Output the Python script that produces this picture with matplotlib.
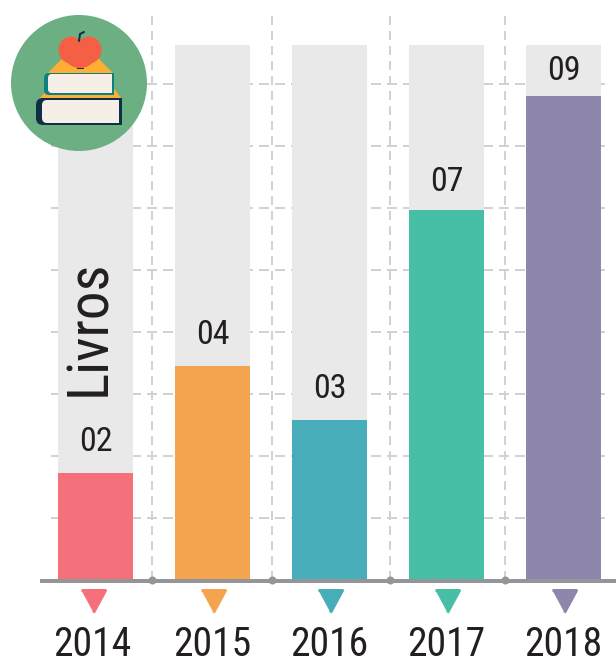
import matplotlib
matplotlib.use('Agg')
import matplotlib.pyplot as plt
from matplotlib.patches import Circle, Ellipse, Polygon, FancyBboxPatch

plt.rcParams['font.family'] = ['Roboto Condensed', 'Archivo Narrow', 'Liberation Sans', 'DejaVu Sans']

# data
years = ['2014', '2015', '2016', '2017', '2018']
labels = ['02', '04', '03', '07', '09']
heights = [2.0, 4.0, 3.0, 6.92, 9.05]
track_top = 10
colors = ['#F4707A', '#F4A44F', '#46ADB9', '#47BEA6', '#8F86AD']
h_grid = [1.16, 2.32, 3.48, 4.64, 5.79, 6.95, 8.11, 9.27]
v_grid = [0.485, 1.51, 2.52, 3.50]
title = 'Livros'

TEXT = '#231F20'
GRID = '#D2D2D2'
AXIS = '#949598'
PX_X = 117.0   # pixels per category
PX_Y = 53.5    # pixels per unit
X0 = 95.5      # pixel of first bar centre
Y0 = 580.0     # pixel of the zero line

fig = plt.figure(figsize=(6.16, 6.59), dpi=100)
ax = fig.add_axes([0, 0, 1, 1])
ax.set_xlim(-X0 / PX_X, (616 - X0) / PX_X)
ax.set_ylim((Y0 - 659) / PX_Y, Y0 / PX_Y)
ax.axis('off')

xs = list(range(len(years)))
px = 0.72  # one pixel in points

# grid, limited to the plot area
x_left, x_right = (51 - X0) / PX_X, (611 - X0) / PX_X
for y in h_grid:
    ax.plot([x_left, x_right], [y, y], color=GRID, lw=2 * px,
            dashes=(5, 3), zorder=1)
for x in v_grid:
    ax.plot([x, x], [0, (Y0 - 15) / PX_Y], color=GRID, lw=2 * px,
            dashes=(4.5, 3), zorder=1)

width = 75 / PX_X
ax.bar(xs, [track_top] * 5, width=width, color='#E9E9E9', zorder=2)
ax.bar(xs, heights, width=width, color=colors, zorder=3)

# axis line and dots
ax.plot([(40 - X0) / PX_X, (616 - X0) / PX_X], [-1 / PX_Y, -1 / PX_Y], color=AXIS,
        lw=4 * px, zorder=4, solid_capstyle='butt')
ax.plot(v_grid, [0] * 4, 'o', color=AXIS, ms=8 * px, mew=0, zorder=5)

# value labels
label_pad = [22, 22, 22, 19, 16]
for x, h, lab, pad in zip(xs, heights, labels, label_pad):
    ax.annotate(lab, (x, h), xytext=(0, pad * px), textcoords='offset points',
                ha='center', va='baseline', fontsize=24.5, color=TEXT, zorder=6)

# triangles and years under the axis
tri = [(-1, 1), (1, 1), (0, -0.85)]
shift = [-3 / PX_X, 0, 0, 0, 0]
for x, s, c, year in zip(xs, shift, colors, years):
    ax.plot([x + s], [-22 / PX_Y], marker=tri, ms=24 * px, color=c, mew=3 * px, mec=c,
            ls='none', zorder=5, clip_on=False)
    ax.text(x + s, -76 / PX_Y, year, ha='center', va='baseline', fontsize=28.5, color=TEXT)

ax.text((90 - X0) / PX_X, (Y0 - 328) / PX_Y, title, rotation=90, ha='center', va='center',
        fontsize=41, color=TEXT, zorder=6)

# icon, drawn in pixel coordinates on its own axes
icon = fig.add_axes([0, 0, 1, 1], zorder=10)
icon.set_xlim(0, 616)
icon.set_ylim(659, 0)
icon.axis('off')
icon.patch.set_alpha(0)

icon.add_patch(Circle((79, 83), 68, color='#6CAF82', lw=0))
icon.add_patch(Polygon([(48, 73), (113, 73), (80, 40)], color='#FDAE33', lw=0))
icon.add_patch(Polygon([(40, 98), (121, 98), (112, 86), (50, 86)], color='#FDAE33', lw=0))

# top book
icon.add_patch(FancyBboxPatch((44, 73), 70, 22, boxstyle='round,pad=0,rounding_size=5',
                              color='#0E8080', lw=0))
icon.add_patch(Polygon([(60, 73), (114, 73), (114, 95), (60, 95)], color='#0E8080', lw=0))
icon.add_patch(FancyBboxPatch((48, 74), 64, 19, boxstyle='round,pad=0,rounding_size=4',
                              color='#F6EFE8', lw=0))
icon.add_patch(Polygon([(60, 74), (112, 74), (112, 93), (60, 93)], color='#F6EFE8', lw=0))

# bottom book
icon.add_patch(FancyBboxPatch((36, 98), 86, 27, boxstyle='round,pad=0,rounding_size=7',
                              color='#0E2F44', lw=0))
icon.add_patch(Polygon([(100, 98), (122, 98), (122, 125), (100, 125)], color='#0E2F44', lw=0))
icon.add_patch(FancyBboxPatch((42, 100), 77, 23, boxstyle='round,pad=0,rounding_size=5',
                              color='#F6EFE8', lw=0))
icon.add_patch(Polygon([(100, 100), (119, 100), (119, 123), (100, 123)], color='#F6EFE8', lw=0))

# apple
icon.plot([79, 80, 84], [41, 34, 32], color='#0E2F44', lw=2 * px, solid_capstyle='round')
icon.add_patch(Ellipse((71, 50), 25, 27, color='#F55F44', lw=0))
icon.add_patch(Ellipse((89, 50), 25, 27, color='#F55F44', lw=0))
icon.add_patch(Ellipse((80, 56), 30, 24, color='#F55F44', lw=0))
icon.plot([77, 83], [67.5, 67.5], color='#0E2F44', lw=1 * px)

fig.savefig('out.png', dpi=100)
